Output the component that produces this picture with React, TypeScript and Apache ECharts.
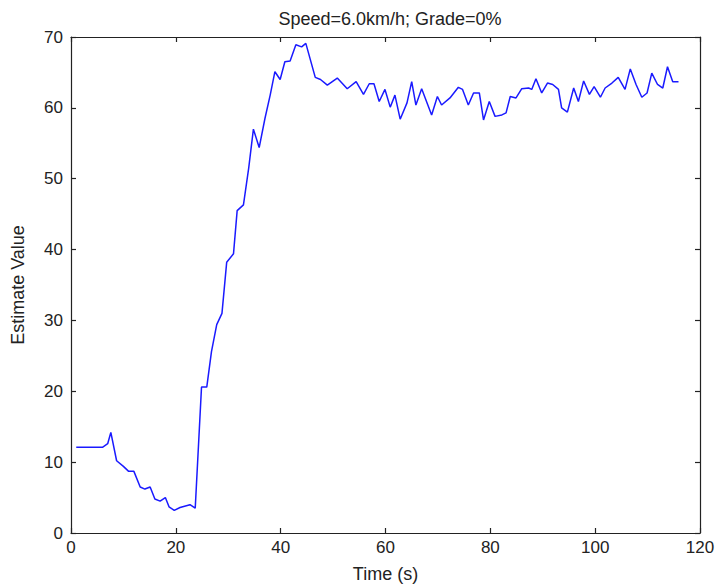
import React, { useEffect, useRef } from "react";
import * as echarts from "echarts";

const TITLE = "Speed=6.0km/h; Grade=0%";
const X_LABEL = "Time (s)";
const Y_LABEL = "Estimate Value";

const times = [
  1, 6, 7, 7.6, 8.7, 10, 11, 12, 13.2, 14.1, 15.1, 16, 17, 18, 18.7, 19.7, 20.8, 22.7, 23.7,
  24.9, 25.9, 26.8, 27.8, 28.8, 29.7, 31, 31.7, 32.9, 33.9, 34.8, 35.9, 37, 38, 38.9, 39.9,
  40.8, 41.8, 42.9, 44, 44.8, 46.6, 47.6, 48.9, 50.8, 52.7, 54.4, 55.8, 56.9, 57.8, 58.8,
  59.9, 60.9, 61.8, 62.8, 64.1, 65, 65.8, 66.9, 68.8, 69.9, 70.7, 72.3, 73.9, 74.7, 75.8,
  76.8, 77.9, 78.7, 79.8, 80.9, 82.2, 83, 83.8, 84.9, 86, 87.3, 87.9, 88.7, 89.8, 90.9,
  91.9, 93, 93.6, 94.7, 95.9, 96.8, 97.8, 98.9, 99.8, 101, 101.9, 103.2, 104.4, 105.7,
  106.7, 107.8, 108.9, 109.9, 110.8, 111.9, 112.9, 113.8, 114.8, 115.9,
];

const values = [
  12.1, 12.1, 12.6, 14.2, 10.2, 9.4, 8.7, 8.7, 6.5, 6.2, 6.5, 4.8, 4.5, 5.0, 3.7, 3.2, 3.6, 4.0, 3.5,
  20.6, 20.6, 25.6, 29.4, 31.0, 38.2, 39.4, 45.5, 46.3, 51.5, 57.0, 54.4, 58.5, 61.8, 65.1, 64.0,
  66.5, 66.6, 68.9, 68.6, 69.1, 64.3, 64.0, 63.2, 64.2, 62.7, 63.7, 61.9, 63.4, 63.4, 60.9,
  62.6, 60.1, 61.8, 58.4, 60.7, 63.7, 60.4, 62.7, 59.0, 61.6, 60.4, 61.4, 62.9, 62.6, 60.4,
  62.1, 62.1, 58.3, 60.9, 58.8, 59.0, 59.3, 61.6, 61.4, 62.7, 62.8, 62.6, 64.1, 62.1, 63.5,
  63.3, 62.6, 60.0, 59.4, 62.8, 60.9, 63.8, 61.9, 63.0, 61.5, 62.8, 63.5, 64.3, 62.6,
  65.5, 63.3, 61.5, 62.1, 64.9, 63.3, 62.8, 65.8, 63.7, 63.7,
];

const X_MIN = 0, X_MAX = 120, X_STEP = 20;
const Y_MIN = 0, Y_MAX = 70, Y_STEP = 10;

export default function App() {
  const ref = useRef<HTMLDivElement>(null);
  useEffect(() => {
    if (!ref.current) return;
    document.body.style.margin = "0";
    const chart = echarts.init(ref.current, null, { renderer: "svg" });
    const font = "'Liberation Sans', Arial, sans-serif";
    const axisLine = { show: true, onZero: false, lineStyle: { color: "#222", width: 1.2 } };
    const tick = { show: true, inside: true, length: 5, lineStyle: { color: "#222", width: 1.2 } };
    chart.setOption({
      animation: false,
      backgroundColor: "#fff",
      title: {
        text: TITLE,
        left: 385,
        textAlign: "center",
        top: 5,
        textStyle: { fontFamily: font, fontSize: 18, fontWeight: "normal", color: "#222" },
      },
      grid: { left: 71, right: 18, top: 37, bottom: 52, show: false },
      xAxis: [
        {
          type: "value", min: X_MIN, max: X_MAX, interval: X_STEP, position: "bottom",
          name: X_LABEL, nameLocation: "middle", nameGap: 32,
          nameTextStyle: { fontFamily: font, fontSize: 18, color: "#222" },
          axisLine, axisTick: tick, splitLine: { show: false },
          axisLabel: { fontFamily: font, fontSize: 17, color: "#222", margin: 6 },
        },
        {
          type: "value", min: X_MIN, max: X_MAX, interval: X_STEP, position: "top",
          axisLine, axisTick: tick, splitLine: { show: false }, axisLabel: { show: false },
        },
      ],
      yAxis: [
        {
          type: "value", min: Y_MIN, max: Y_MAX, interval: Y_STEP, position: "left",
          name: Y_LABEL, nameLocation: "middle", nameGap: 44, nameRotate: 90,
          nameTextStyle: { fontFamily: font, fontSize: 18, color: "#222" },
          axisLine, axisTick: tick, splitLine: { show: false },
          axisLabel: { fontFamily: font, fontSize: 17, color: "#222", margin: 8 },
        },
        {
          type: "value", min: Y_MIN, max: Y_MAX, interval: Y_STEP, position: "right",
          axisLine, axisTick: tick, splitLine: { show: false }, axisLabel: { show: false },
        },
      ],
      series: [
        {
          type: "line",
          xAxisIndex: 0,
          yAxisIndex: 0,
          data: times.map((t, i) => [t, values[i]]),
          showSymbol: false,
          lineStyle: { color: "#1a1aff", width: 1.5 },
        },
      ],
    });
    return () => chart.dispose();
  }, []);
  return <div ref={ref} style={{ width: 718, height: 588 }} />;
}
